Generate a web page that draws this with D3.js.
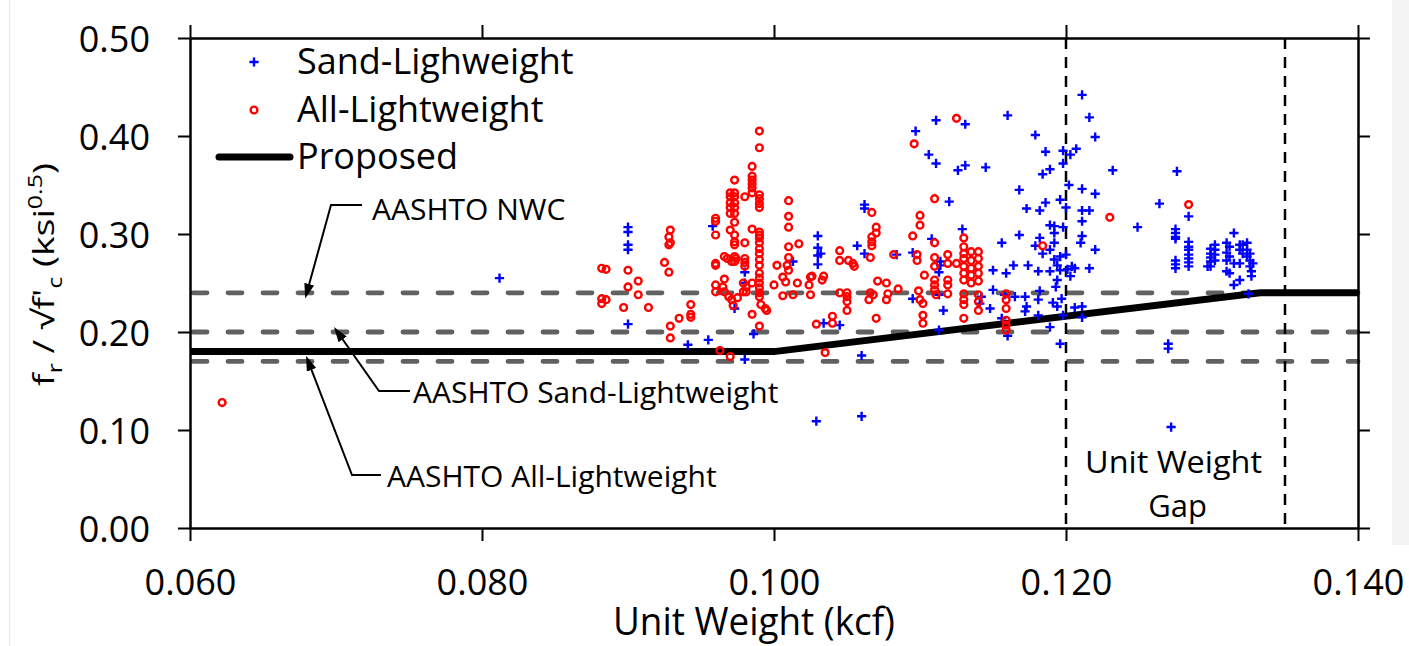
<!DOCTYPE html>
<html>
<head>
<meta charset="utf-8">
<script src="https://cdn.jsdelivr.net/npm/d3@7"></script>
<style>
  html, body { margin: 0; padding: 0; background: #fff; }
  svg { display: block; }
  text { font-family: "Open Sans", "DejaVu Sans", sans-serif; fill: #000; }
</style>
</head>
<body>
<svg id="chart" width="1409" height="646"></svg>
<script>
// ---- axis ticks ----
const xTicks = [0.060, 0.080, 0.100, 0.120, 0.140];
const yTicks = [0.00, 0.10, 0.20, 0.30, 0.40, 0.50];

// ---- measured modulus of rupture ratio vs. unit weight: [unit weight (kcf), fr/sqrt(f'c)] ----
const sandLightweight = [
  [0.0900,0.307],[0.0900,0.302],[0.0900,0.289],[0.0900,0.284],[0.0900,0.208],
  [0.0958,0.308],[0.0980,0.261],[0.0980,0.250],[0.0973,0.224],[0.0986,0.198],
  [0.0941,0.187],[0.0955,0.192],[0.0980,0.172],
  [0.1030,0.298],[0.1030,0.286],[0.1030,0.278],[0.1032,0.280],[0.1030,0.269],[0.1013,0.272],
  [0.1029,0.109],[0.1060,0.114],[0.0812,0.255],
  [0.1111,0.416],[0.1097,0.405],[0.1106,0.381],[0.1111,0.372],[0.1126,0.365],[0.1120,0.333],
  [0.1062,0.330],[0.1062,0.326],[0.1057,0.288],[0.1062,0.280],[0.1084,0.279],[0.1095,0.281],
  [0.1108,0.295],[0.1114,0.272],[0.1114,0.268],[0.1113,0.261],[0.1095,0.234],[0.1113,0.238],
  [0.1116,0.222],[0.1113,0.202],[0.1034,0.209],[0.1045,0.207],[0.1060,0.176],
  [0.1211,0.442],[0.1160,0.421],[0.1131,0.412],[0.1216,0.419],[0.1220,0.399],[0.1179,0.401],
  [0.1186,0.384],[0.1198,0.385],[0.1203,0.381],[0.1207,0.387],[0.1198,0.372],
  [0.1189,0.366],[0.1184,0.361],[0.1131,0.370],[0.1145,0.368],[0.1232,0.365],
  [0.1202,0.350],[0.1168,0.345],[0.1211,0.346],[0.1220,0.341],
  [0.1186,0.332],[0.1196,0.335],[0.1173,0.326],[0.1182,0.324],[0.1200,0.327],[0.1211,0.324],[0.1216,0.324],
  [0.1211,0.313],[0.1189,0.309],[0.1192,0.308],[0.1198,0.307],[0.1192,0.301],[0.1168,0.299],[0.1249,0.307],[0.1129,0.305],
  [0.1211,0.298],[0.1210,0.291],[0.1182,0.296],[0.1192,0.291],[0.1179,0.288],[0.1184,0.280],[0.1189,0.284],
  [0.1156,0.291],[0.1220,0.284],
  [0.1192,0.274],[0.1196,0.277],[0.1200,0.279],[0.1194,0.268],[0.1189,0.262],[0.1196,0.263],[0.1201,0.264],
  [0.1204,0.267],[0.1206,0.265],[0.1203,0.257],[0.1194,0.253],[0.1193,0.246],
  [0.1164,0.268],[0.1174,0.268],[0.1181,0.262],[0.1159,0.260],[0.1150,0.263],[0.1216,0.265],
  [0.1150,0.243],[0.1158,0.238],[0.1165,0.236],[0.1172,0.236],[0.1182,0.242],[0.1181,0.233],[0.1197,0.234],
  [0.1191,0.230],[0.1194,0.226],[0.1173,0.226],[0.1172,0.221],[0.1148,0.224],[0.1181,0.217],[0.1206,0.225],
  [0.1211,0.226],[0.1211,0.215],[0.1198,0.217],[0.1189,0.205],[0.1196,0.188],[0.1160,0.196],[0.1156,0.214],
  [0.1142,0.236],[0.1141,0.229],
  [0.1276,0.364],[0.1264,0.331],[0.1284,0.318],
  [0.1275,0.305],[0.1275,0.301],[0.1275,0.297],[0.1275,0.295],
  [0.1275,0.273],[0.1275,0.269],[0.1275,0.265],
  [0.1284,0.292],[0.1284,0.287],[0.1284,0.284],[0.1284,0.279],[0.1284,0.275],[0.1284,0.271],[0.1284,0.267],
  [0.1299,0.285],[0.1299,0.280],[0.1299,0.276],[0.1299,0.272],[0.1299,0.267],[0.1302,0.289],[0.1302,0.284],
  [0.1302,0.279],[0.1302,0.273],[0.1297,0.267],
  [0.1310,0.291],[0.1312,0.287],[0.1310,0.281],[0.1312,0.277],[0.1310,0.273],[0.1315,0.270],[0.1310,0.262],
  [0.1312,0.260],[0.1315,0.301],[0.1315,0.248],[0.1319,0.253],
  [0.1319,0.289],[0.1321,0.289],[0.1324,0.291],[0.1319,0.284],[0.1321,0.280],[0.1324,0.277],[0.1326,0.273],
  [0.1328,0.270],[0.1326,0.267],[0.1319,0.270],[0.1324,0.284],[0.1327,0.262],[0.1327,0.257],[0.1326,0.280],
  [0.1325,0.239],
  [0.1270,0.188],[0.1270,0.183],[0.1272,0.103]
];

const allLightweight = [
  [0.0990,0.405],[0.0990,0.388],[0.0985,0.369],[0.0985,0.359],[0.0985,0.355],[0.0985,0.351],[0.0985,0.347],[0.0985,0.342],
  [0.0990,0.340],[0.0990,0.336],[0.0990,0.331],[0.0990,0.327],[0.0973,0.355],
  [0.0970,0.342],[0.0973,0.342],[0.0970,0.338],[0.0973,0.338],[0.0970,0.332],[0.0973,0.332],[0.0970,0.327],
  [0.0973,0.327],[0.0970,0.321],[0.0973,0.321],[0.0973,0.312],
  [0.0980,0.338],[0.0960,0.316],[0.0960,0.313],[0.0960,0.299],
  [0.0970,0.304],[0.0973,0.299],[0.0973,0.292],[0.0973,0.289],[0.0980,0.291],[0.0985,0.305],
  [0.0990,0.302],[0.0990,0.299],[0.0990,0.296],[0.0990,0.291],[0.0990,0.285],[0.0990,0.280],[0.0990,0.274],
  [0.0990,0.268],[0.0990,0.260],[0.0990,0.255],[0.0990,0.250],[0.0990,0.245],[0.0990,0.240],[0.0990,0.236],
  [0.0991,0.228],[0.0994,0.224],[0.0995,0.222],[0.0990,0.206],[0.0985,0.218],
  [0.0960,0.270],[0.0960,0.268],
  [0.0966,0.277],[0.0968,0.275],[0.0971,0.272],[0.0973,0.277],[0.0973,0.272],[0.0974,0.275],
  [0.0980,0.275],[0.0980,0.271],[0.0980,0.267],
  [0.0966,0.254],[0.0960,0.248],[0.0960,0.241],[0.0965,0.246],[0.0966,0.241],[0.0969,0.236],[0.0971,0.233],[0.0972,0.227],
  [0.0979,0.250],[0.0981,0.246],[0.0979,0.241],[0.0981,0.241],[0.0985,0.250],[0.0975,0.235],
  [0.1010,0.334],[0.1010,0.318],[0.1010,0.307],
  [0.1010,0.287],[0.1010,0.276],[0.1009,0.268],[0.1010,0.263],[0.1006,0.256],[0.1008,0.251],[0.1002,0.268],
  [0.1000,0.248],[0.1006,0.237],[0.1013,0.238],[0.1016,0.250],[0.1017,0.290],
  [0.1025,0.256],[0.1026,0.257],[0.1024,0.248],[0.1025,0.238],[0.1029,0.208],
  [0.0882,0.265],[0.0885,0.264],[0.0882,0.234],[0.0885,0.233],[0.0882,0.229],[0.0900,0.263],[0.0900,0.246],
  [0.0907,0.252],[0.0907,0.238],[0.0897,0.225],[0.0914,0.225],
  [0.0929,0.304],[0.0928,0.297],[0.0929,0.291],[0.0928,0.289],[0.0925,0.271],[0.0928,0.261],[0.0943,0.228],
  [0.0943,0.218],[0.0943,0.215],[0.0935,0.214],[0.0929,0.206],[0.0929,0.194],
  [0.0963,0.181],[0.0970,0.175],
  [0.1125,0.418],[0.1096,0.392],[0.1110,0.336],[0.1067,0.322],
  [0.1070,0.307],[0.1070,0.301],[0.1067,0.297],[0.1067,0.292],[0.1067,0.288],[0.1066,0.276],
  [0.1045,0.283],[0.1045,0.273],[0.1051,0.273],[0.1054,0.270],[0.1055,0.267],[0.1034,0.257],[0.1033,0.253],
  [0.1045,0.240],[0.1050,0.240],[0.1050,0.236],[0.1050,0.231],[0.1050,0.222],[0.1040,0.216],[0.1040,0.209],
  [0.1071,0.252],[0.1077,0.250],[0.1066,0.240],[0.1068,0.238],[0.1065,0.233],[0.1077,0.233],[0.1078,0.239],[0.1085,0.244],
  [0.1070,0.214],[0.1082,0.279],[0.1100,0.319],[0.1100,0.309],[0.1095,0.298],
  [0.1098,0.279],[0.1098,0.273],[0.1103,0.258],[0.1099,0.242],[0.1100,0.233],[0.1102,0.229],[0.1102,0.217],[0.1102,0.209],
  [0.1110,0.291],[0.1110,0.276],[0.1110,0.267],[0.1110,0.253],[0.1110,0.248],[0.1110,0.243],[0.1111,0.238],
  [0.1119,0.279],[0.1119,0.270],[0.1119,0.253],[0.1119,0.248],[0.1119,0.239],[0.1125,0.270],
  [0.1130,0.296],[0.1130,0.287],[0.1130,0.280],[0.1130,0.275],[0.1130,0.267],[0.1130,0.260],[0.1130,0.253],
  [0.1130,0.239],[0.1130,0.233],[0.1130,0.228],[0.1130,0.214],
  [0.1135,0.282],[0.1135,0.273],[0.1135,0.265],[0.1135,0.258],[0.1135,0.250],
  [0.1140,0.282],[0.1140,0.275],[0.1140,0.267],[0.1140,0.260],[0.1140,0.252],[0.1140,0.238],[0.1140,0.231],[0.1140,0.222],
  [0.1159,0.239],[0.1159,0.233],[0.1159,0.224],[0.1159,0.212],[0.1159,0.207],[0.1159,0.202],
  [0.1035,0.179],[0.1230,0.317],[0.1184,0.288],[0.1284,0.330],[0.0622,0.128]
];

// ---- design expressions ----
const proposedX = [0.060, 0.100, 0.1333, 0.140];
const proposedY = [0.18, 0.18, 0.24, 0.24];
const aashtoLevels = [0.24, 0.20, 0.17];
const aashtoLabels = ["AASHTO NWC", "AASHTO Sand-Lightweight", "AASHTO All-Lightweight"];
const gapBounds = [0.120, 0.135];
const legendLabels = ["Sand-Lighweight", "All-Lightweight", "Proposed"];

// ---- scales ----
const svg = d3.select("#chart");
const x = d3.scaleLinear().domain([0.06, 0.14]).range([190, 1358]);
const y = d3.scaleLinear().domain([0, 0.5]).range([528, 38]);

// page edge details
svg.append("rect").attr("x", 1392).attr("y", 0).attr("width", 17).attr("height", 545).attr("fill", "#f3f3f3");
svg.append("line").attr("x1", 9.5).attr("x2", 9.5).attr("y1", 0).attr("y2", 646)
  .attr("stroke", "#e6e6e6").attr("stroke-width", 1);

// arrowhead for the annotation leaders
svg.append("defs").append("marker")
  .attr("id", "arrowhead").attr("viewBox", "0 0 15 10")
  .attr("refX", 9).attr("refY", 5)
  .attr("markerWidth", 15).attr("markerHeight", 10)
  .attr("markerUnits", "userSpaceOnUse").attr("orient", "auto")
  .append("path").attr("d", "M0,0L15,5L0,10Z").attr("fill", "#000");

// AASHTO reference levels
svg.append("g").selectAll("line").data(aashtoLevels).join("line")
  .attr("x1", x(0.06) + 3).attr("x2", x(0.14))
  .attr("y1", d => y(d)).attr("y2", d => y(d))
  .attr("stroke", "#616161").attr("stroke-width", 4.8)
  .attr("stroke-linecap", "round").attr("stroke-dasharray", "14,21");

// unit weight gap boundaries
svg.append("g").selectAll("line").data(gapBounds).join("line")
  .attr("x1", d => x(d)).attr("x2", d => x(d))
  .attr("y1", y(0.5)).attr("y2", y(0))
  .attr("stroke", "#000").attr("stroke-width", 2.5).attr("stroke-dasharray", "11,8");

// proposed expression
const line = d3.line().x(d => x(d[0])).y(d => y(d[1]));
svg.append("path").datum(proposedX.map((v, i) => [v, proposedY[i]]))
  .attr("d", line).attr("fill", "none").attr("stroke", "#000").attr("stroke-width", 7);

// axes (mirrored on all four sides, ticks outward)
function styleAxis(g) {
  g.select(".domain").attr("stroke", "#000").attr("stroke-width", 2.5);
  g.selectAll(".tick line").attr("stroke", "#000").attr("stroke-width", 2);
  g.selectAll(".tick text").style("font-family", '"Open Sans", sans-serif').style("font-size", "36px").attr("fill", "#000");
}
svg.append("g").attr("transform", `translate(0,${y(0)})`)
  .call(d3.axisBottom(x).tickValues(xTicks).tickFormat(d3.format(".3f")).tickSize(13).tickSizeOuter(0).tickPadding(28))
  .call(styleAxis);
svg.append("g").attr("transform", `translate(0,${y(0.5)})`)
  .call(d3.axisTop(x).tickValues(xTicks).tickFormat("").tickSize(13).tickSizeOuter(0))
  .call(styleAxis);
svg.append("g").attr("transform", `translate(${x(0.06)},0)`)
  .call(d3.axisLeft(y).tickValues(yTicks).tickFormat(d3.format(".2f")).tickSize(12).tickSizeOuter(0).tickPadding(28))
  .call(styleAxis)
  .call(g => g.selectAll(".tick text").attr("dy", "0.37em"));
svg.append("g").attr("transform", `translate(${x(0.14)},0)`)
  .call(d3.axisRight(y).tickValues(yTicks).tickFormat("").tickSize(12).tickSizeOuter(0))
  .call(styleAxis);

// data markers
const plus = "M-4.6,0H4.6M0,-4.6V4.6";
svg.append("g").selectAll("path").data(sandLightweight).join("path")
  .attr("transform", d => `translate(${x(d[0])},${y(d[1])})`)
  .attr("d", plus).attr("stroke", "#0000ff").attr("stroke-width", 2.4).attr("fill", "none");
svg.append("g").selectAll("circle").data(allLightweight).join("circle")
  .attr("cx", d => x(d[0])).attr("cy", d => y(d[1])).attr("r", 3.4)
  .attr("fill", "none").attr("stroke", "#ff0000").attr("stroke-width", 2.4);

// legend
const legend = svg.append("g");
const rowY = [62, 110, 157];
legend.append("path").attr("transform", `translate(254,${rowY[0]})`).attr("d", plus)
  .attr("stroke", "#0000ff").attr("stroke-width", 2.4);
legend.append("circle").attr("cx", 254).attr("cy", rowY[1]).attr("r", 3.4)
  .attr("fill", "none").attr("stroke", "#ff0000").attr("stroke-width", 2.4);
legend.append("line").attr("x1", 219).attr("x2", 290).attr("y1", rowY[2]).attr("y2", rowY[2])
  .attr("stroke", "#000").attr("stroke-width", 7).attr("stroke-linecap", "round");
legend.selectAll("text").data(legendLabels).join("text")
  .attr("x", 297).attr("y", (d, i) => rowY[i] + 12)
  .style("font-size", "36px").text(d => d);

// AASHTO annotations with leader arrows
const notes = [
  { at: 0.0680, elbow: [331, 205], start: 362, tx: 372, ty: 220 },
  { at: 0.0701, elbow: [379, 391], start: 410, tx: 413, ty: 403 },
  { at: 0.0681, elbow: [352, 475], start: 381, tx: 387, ty: 487 }
];
notes.forEach((n, i) => {
  const tip = [x(n.at), y(aashtoLevels[i])];
  svg.append("path")
    .attr("d", `M${n.start},${n.elbow[1]}H${n.elbow[0]}L${tip[0]},${tip[1]}`)
    .attr("fill", "none").attr("stroke", "#000").attr("stroke-width", 2)
    .attr("marker-end", "url(#arrowhead)");
  svg.append("text").attr("x", n.tx).attr("y", n.ty)
    .style("font-size", "30px").text(aashtoLabels[i]);
});

// unit weight gap label
const gapMid = x((gapBounds[0] + gapBounds[1]) / 2) - 2;
svg.append("text").attr("x", gapMid).attr("y", 473).attr("text-anchor", "middle")
  .style("font-size", "31px").attr("textLength", 177).attr("lengthAdjust", "spacingAndGlyphs")
  .text("Unit Weight");
svg.append("text").attr("x", gapMid + 4).attr("y", 517).attr("text-anchor", "middle")
  .style("font-size", "31px").text("Gap");

// axis titles
svg.append("text").attr("x", 754).attr("y", 635).attr("text-anchor", "middle")
  .style("font-size", "38px").attr("textLength", 282).attr("lengthAdjust", "spacingAndGlyphs")
  .text("Unit Weight (kcf)");

const yt = svg.append("text").attr("text-anchor", "middle").style("font-size", "30px");
yt.append("tspan").text("f");
yt.append("tspan").attr("dy", 8).style("font-size", "20px").text("r");
yt.append("tspan").attr("dy", -8).text(" / \u221Af'");
yt.append("tspan").attr("dy", 8).style("font-size", "20px").text("c");
yt.append("tspan").attr("dy", -8).text(" (ksi");
yt.append("tspan").attr("dy", -12).style("font-size", "20px").text("0.5");
yt.append("tspan").attr("dy", 12).text(")");
const ytLen = yt.node().getComputedTextLength();
yt.attr("transform", `translate(54,274.5) rotate(-90) scale(${223 / ytLen},1)`);
</script>
</body>
</html>
